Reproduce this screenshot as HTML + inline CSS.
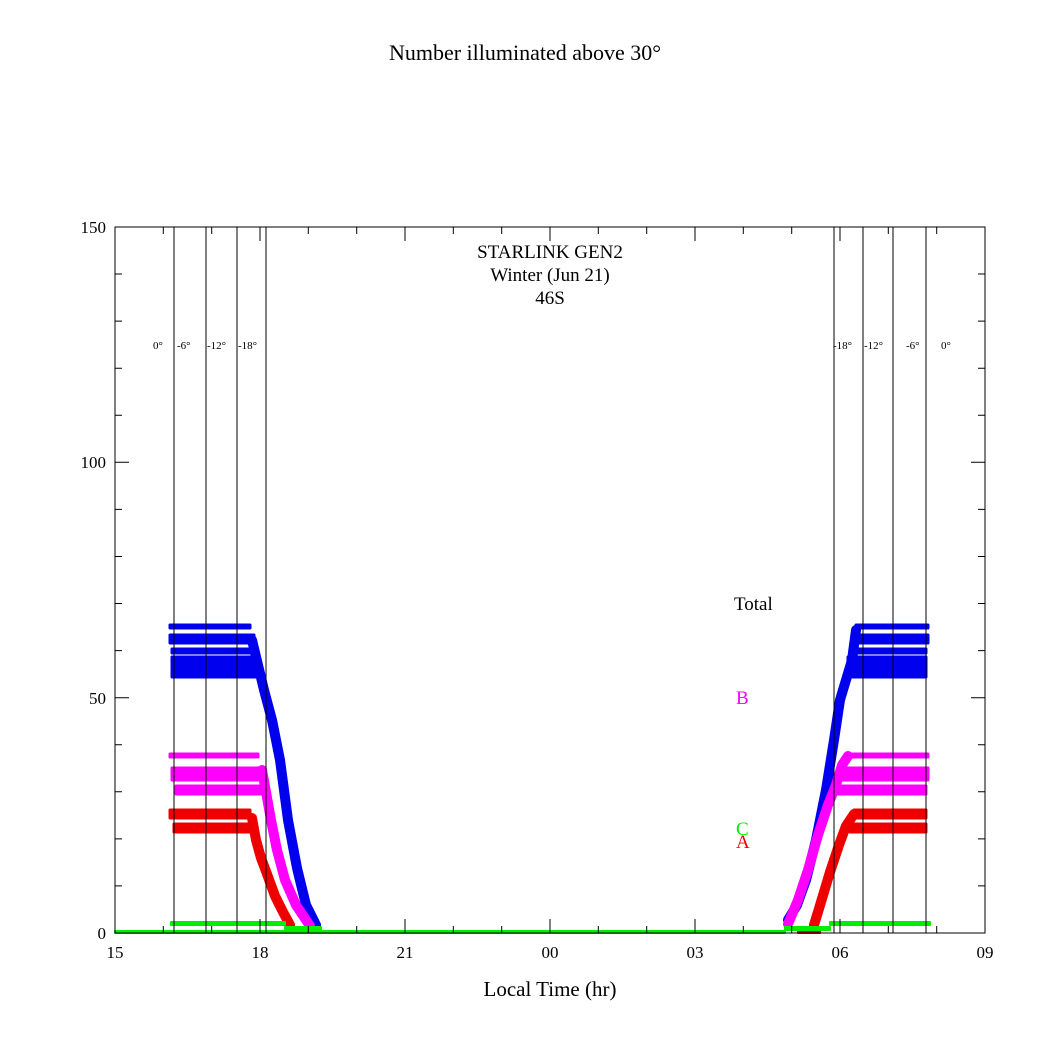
<!DOCTYPE html>
<html><head><style>body{margin:0;background:#fff}svg{display:block}text{font-family:"Liberation Serif",serif}</style></head><body>
<svg width="1046" height="1046" viewBox="0 0 1046 1046" xmlns="http://www.w3.org/2000/svg">
<rect width="1046" height="1046" fill="#fff"/>
<text x="525" y="60" font-size="22" text-anchor="middle">Number illuminated above 30°</text>
<g stroke-linecap="round" stroke-linejoin="round">
<g fill="#0000ee" stroke="#0000ee">
<g stroke-width="3">
<rect x="170" y="625" width="80" height="3"/>
<rect x="170" y="635" width="84" height="8"/>
<rect x="172" y="649" width="84" height="4"/>
<rect x="172" y="657" width="84" height="20"/>
<rect x="856" y="625" width="72" height="3"/>
<rect x="852" y="635" width="76" height="8"/>
<rect x="850" y="649" width="76" height="4"/>
<rect x="848" y="657" width="78" height="20"/>
</g>
<polyline fill="none" stroke-width="10" points="252,640 258,665 264,690 272,720 280,760 288,820 297,868 306,905 316,925"/>
<polyline fill="none" stroke-width="10" points="788,920 797,905 806,880 816,840 826,790 834,740 840,700 846,680 852,660 856,630"/>
</g>
<g fill="#ff00ff" stroke="#ff00ff">
<g stroke-width="3">
<rect x="170" y="754" width="88" height="3"/>
<rect x="172" y="768" width="90" height="12"/>
<rect x="176" y="786" width="88" height="8"/>
<rect x="848" y="754" width="80" height="3"/>
<rect x="842" y="768" width="86" height="12"/>
<rect x="838" y="786" width="88" height="8"/>
</g>
<polyline fill="none" stroke-width="10" points="262,770 266,792 271,820 277,850 285,880 296,905 310,926"/>
<polyline fill="none" stroke-width="10" points="788,924 798,900 808,870 818,835 828,805 836,785 842,765 848,756"/>
</g>
<g fill="#ee0000" stroke="#ee0000">
<g stroke-width="3">
<rect x="170" y="810" width="80" height="8"/>
<rect x="174" y="824" width="82" height="8"/>
<rect x="854" y="810" width="72" height="8"/>
<rect x="850" y="824" width="76" height="8"/>
</g>
<polyline fill="none" stroke-width="10" points="252,818 256,840 261,858 267,874 275,896 283,912 290,925"/>
<polyline fill="none" stroke-width="10" points="814,925 821,902 830,872 839,845 846,826 854,814"/>
<rect x="288" y="929" width="32" height="4" stroke-width="2"/>
<rect x="798" y="929" width="22" height="4" stroke-width="2"/>
</g>
<g fill="#00ee00" stroke="#00ee00" stroke-width="2">
<rect x="171" y="922" width="114" height="3"/>
<rect x="285" y="927" width="36" height="3"/>
<rect x="115" y="931" width="670" height="2"/>
<rect x="785" y="927" width="45" height="3"/>
<rect x="830" y="922" width="100" height="3"/>
</g>
</g>
<rect x="115" y="227" width="870" height="706" fill="none" stroke="#000" stroke-width="1"/>
<g stroke="#000" stroke-width="1">
<line x1="174" y1="227" x2="174" y2="933"/><line x1="206" y1="227" x2="206" y2="933"/>
<line x1="237" y1="227" x2="237" y2="933"/><line x1="266" y1="227" x2="266" y2="933"/>
<line x1="834" y1="227" x2="834" y2="933"/><line x1="863" y1="227" x2="863" y2="933"/>
<line x1="893" y1="227" x2="893" y2="933"/><line x1="926" y1="227" x2="926" y2="933"/>
<path fill="none" d="M115,933v-14M260,933v-14M405,933v-14M550,933v-14M695,933v-14M840,933v-14M985,933v-14
M115,227v14M260,227v14M405,227v14M550,227v14M695,227v14M840,227v14M985,227v14
M163.3,933v-7M211.7,933v-7M308.3,933v-7M356.7,933v-7M453.3,933v-7M501.7,933v-7M598.3,933v-7M646.7,933v-7M743.3,933v-7M791.7,933v-7M888.3,933v-7M936.7,933v-7
M163.3,227v7M211.7,227v7M308.3,227v7M356.7,227v7M453.3,227v7M501.7,227v7M598.3,227v7M646.7,227v7M743.3,227v7M791.7,227v7M888.3,227v7M936.7,227v7
M115,933h14M115,697.7h14M115,462.3h14M115,227h14M985,933h-14M985,697.7h-14M985,462.3h-14M985,227h-14
M115,885.9h7M115,838.9h7M115,791.8h7M115,744.7h7M115,650.6h7M115,603.5h7M115,556.5h7M115,509.4h7M115,415.2h7M115,368.2h7M115,321.1h7M115,274h7
M985,885.9h-7M985,838.9h-7M985,791.8h-7M985,744.7h-7M985,650.6h-7M985,603.5h-7M985,556.5h-7M985,509.4h-7M985,415.2h-7M985,368.2h-7M985,321.1h-7M985,274h-7"/>
</g>
<g font-size="17" text-anchor="end">
<text x="106" y="939">0</text><text x="106" y="704">50</text><text x="106" y="468">100</text><text x="106" y="233">150</text>
</g>
<g font-size="17" text-anchor="middle">
<text x="115" y="958">15</text><text x="260" y="958">18</text><text x="405" y="958">21</text><text x="550" y="958">00</text><text x="695" y="958">03</text><text x="840" y="958">06</text><text x="985" y="958">09</text>
</g>
<text x="550" y="996" font-size="21" text-anchor="middle">Local Time (hr)</text>
<g font-size="19" text-anchor="middle">
<text x="550" y="258">STARLINK GEN2</text><text x="550" y="281">Winter (Jun 21)</text><text x="550" y="304">46S</text>
</g>
<g font-size="11">
<text x="153" y="349">0°</text><text x="177" y="349">-6°</text><text x="207" y="349">-12°</text><text x="238" y="349">-18°</text>
<text x="833" y="349">-18°</text><text x="864" y="349">-12°</text><text x="906" y="349">-6°</text><text x="941" y="349">0°</text>
</g>
<g font-size="19">
<text x="734" y="610">Total</text>
<text x="736" y="704" fill="#ff00ff">B</text>
<text x="736" y="835" fill="#00ee00">C</text>
<text x="736" y="848" fill="#ee0000">A</text>
</g>
</svg>
</body></html>
